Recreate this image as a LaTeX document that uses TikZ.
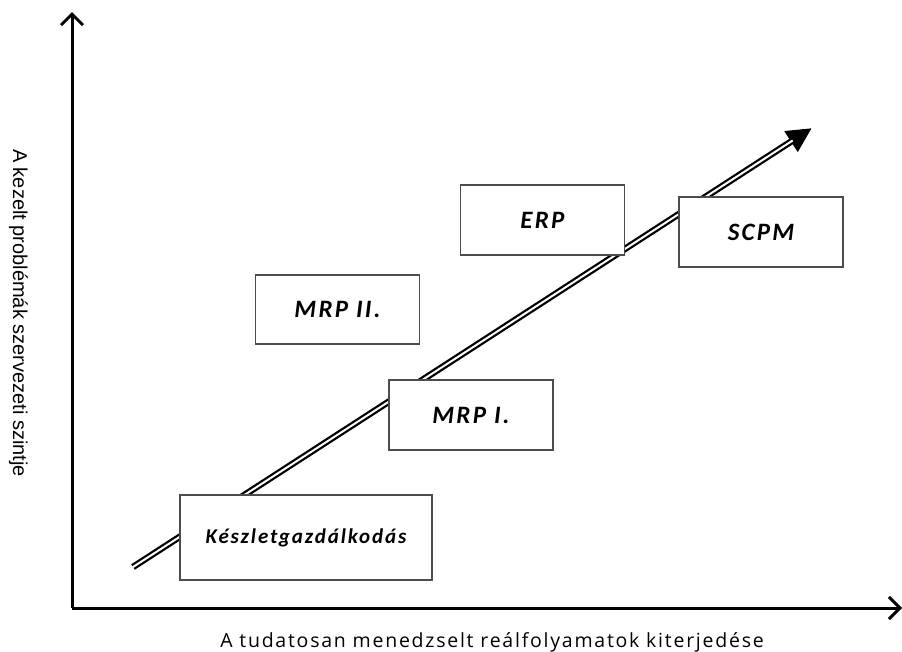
\documentclass[tikz,border=0pt]{standalone}
\usepackage{fontspec}
\setmainfont{Carlito}
\newfontfamily\labelfont[LetterSpace=9]{Open Sans}
\newfontfamily\sidefont{Liberation Sans}
\newfontfamily\stagefont[LetterSpace=9]{Carlito}
\usetikzlibrary{arrows.meta}
\begin{document}
\begin{tikzpicture}[x=1pt,y=-1pt,
  axis/.style={line width=3pt,-{Straight Barb[length=11pt,width=22pt,line width=3pt]}},
  stage/.style={draw=black!70,line width=1.5pt,fill=white,minimum width=#1,
    font=\stagefont\fontsize{25}{29}\selectfont\bfseries\itshape},
  stage/.default=164pt]
\useasboundingbox (0,0) rectangle (902,651);

% axes
\coordinate (origin) at (72,608);
\coordinate (ytip) at (72,12);
\coordinate (xtip) at (902,608);
\draw[axis] (origin) -- (ytip);
\draw[axis] (origin) -- (xtip);

% development trend: double-lined arrow
\coordinate (tstart) at (133,567);
\coordinate (tend) at (812,128);
\draw[line width=6.5pt,-{Triangle[length=25pt,width=23pt]}] (tstart) -- (tend);
\draw[white,line width=2pt,shorten >=23pt,shorten <=-1pt] (tstart) -- (tend);

% stages
\node[stage=252pt,minimum height=85pt,font=\stagefont\fontsize{21}{25}\selectfont\bfseries\itshape] (kg) at (306,537.5) {K\'eszletgazd\'alkod\'as};
\node[stage,minimum height=70pt] (mrp1) at (471,415) {MRP I.};
\node[stage,minimum height=69pt] (mrp2) at (337.5,309.5) {MRP II.};
\node[stage,minimum height=70pt] (erp) at (542.5,220) {ERP};
\node[stage,minimum height=70pt] (scpm) at (761,232) {SCPM};

% axis titles
\node[anchor=base,font=\labelfont\fontsize{19.5}{22}\selectfont] (xlab) at (492,647) {A tudatosan menedzselt re\'alfolyamatok kiterjed\'ese};
\node[rotate=-90,anchor=base,font=\sidefont\fontsize{20}{22}\selectfont] (ylab) at (13,313) {A kezelt probl\'em\'ak szervezeti szintje};
\end{tikzpicture}
\end{document}
